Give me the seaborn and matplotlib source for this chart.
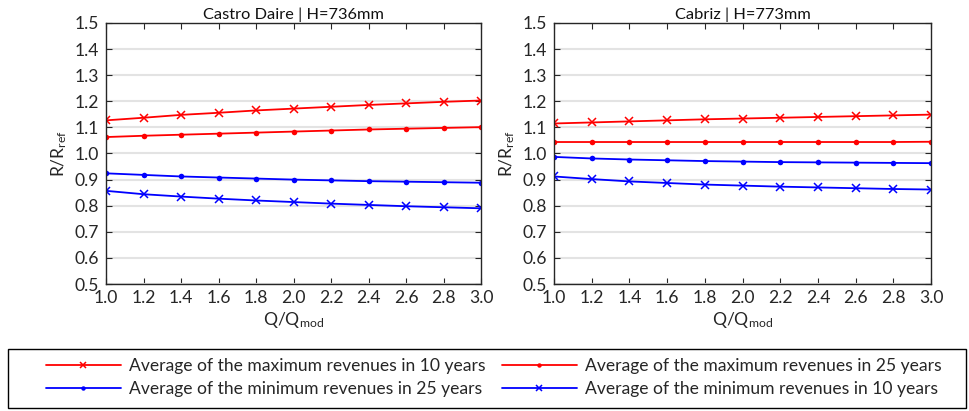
import matplotlib
matplotlib.use("Agg")
import matplotlib.pyplot as plt
import seaborn as sns
import pandas as pd
from matplotlib.lines import Line2D
from matplotlib.patches import Rectangle

q_ratio = [1.0, 1.2, 1.4, 1.6, 1.8, 2.0, 2.2, 2.4, 2.6, 2.8, 3.0]

castro_max10 = [1.127, 1.137, 1.148, 1.156, 1.165, 1.172, 1.179, 1.186, 1.192, 1.198, 1.203]
castro_max25 = [1.063, 1.068, 1.072, 1.076, 1.080, 1.084, 1.088, 1.092, 1.095, 1.098, 1.101]
castro_min25 = [0.924, 0.918, 0.912, 0.908, 0.904, 0.900, 0.897, 0.894, 0.892, 0.890, 0.888]
castro_min10 = [0.857, 0.844, 0.835, 0.827, 0.820, 0.814, 0.808, 0.803, 0.798, 0.794, 0.790]

cabriz_max10 = [1.115, 1.119, 1.123, 1.127, 1.131, 1.134, 1.137, 1.140, 1.143, 1.146, 1.149]
cabriz_max25 = [1.044, 1.044, 1.044, 1.044, 1.044, 1.044, 1.044, 1.044, 1.044, 1.044, 1.045]
cabriz_min25 = [0.987, 0.981, 0.977, 0.974, 0.971, 0.969, 0.967, 0.966, 0.965, 0.964, 0.963]
cabriz_min10 = [0.912, 0.902, 0.893, 0.887, 0.881, 0.877, 0.873, 0.870, 0.867, 0.864, 0.862]

titles = ["Castro Daire | H=736mm", "Cabriz | H=773mm"]
series_names = [
    "Average of the maximum revenues in 10 years",
    "Average of the maximum revenues in 25 years",
    "Average of the minimum revenues in 25 years",
    "Average of the minimum revenues in 10 years",
]
yticks = [0.5, 0.6, 0.7, 0.8, 0.9, 1.0, 1.1, 1.2, 1.3, 1.4, 1.5]
xticks = q_ratio

sns.set_theme(style="white")
plt.rcParams["font.family"] = ["Lato", "DejaVu Sans"]
plt.rcParams["mathtext.fontset"] = "custom"
plt.rcParams["mathtext.rm"] = "Lato"
plt.rcParams["mathtext.it"] = "Lato"
plt.rcParams["xtick.direction"] = "in"
plt.rcParams["ytick.direction"] = "in"

FS = 12.6
FS_TITLE = 11.8
TXT = "#262626"

styles = {
    series_names[0]: dict(color="#ff0000", marker="x", ms=6, mew=1.1),
    series_names[1]: dict(color="#ff0000", marker="o", ms=4, mew=0),
    series_names[2]: dict(color="#0000ff", marker="o", ms=4, mew=0),
    series_names[3]: dict(color="#0000ff", marker="x", ms=6, mew=1.1),
}

panels = [
    [castro_max10, castro_max25, castro_min25, castro_min10],
    [cabriz_max10, cabriz_max25, cabriz_min25, cabriz_min10],
]

W, H = 969, 411
fig = plt.figure(figsize=(W / 100, H / 100), dpi=100)
ax_pos = [
    [106 / W, 1 - 284 / H, 375 / W, 261 / H],
    [554 / W, 1 - 284 / H, 377 / W, 261 / H],
]

for p, vals in enumerate(panels):
    ax = fig.add_axes(ax_pos[p])
    df = pd.DataFrame({"q": q_ratio * 4,
                       "r": sum(vals, []),
                       "series": sum([[n] * len(q_ratio) for n in series_names], [])})
    for name in series_names:
        st = styles[name]
        sub = df[df["series"] == name]
        sns.lineplot(data=sub, x="q", y="r", ax=ax, color=st["color"], marker=st["marker"],
                     markersize=st["ms"], markeredgewidth=st["mew"],
                     markeredgecolor=st["color"], linewidth=1.3, legend=False)
    ax.set_xlim(1.0, 3.0)
    ax.set_ylim(0.5, 1.5)
    ax.set_xticks(xticks)
    ax.set_xticklabels([f"{v:.1f}" for v in xticks], fontsize=FS, color=TXT)
    ax.set_yticks(yticks)
    ax.set_yticklabels([f"{v:.1f}" for v in yticks], fontsize=FS, color=TXT)
    ax.tick_params(axis="both", which="both", direction="in", length=4, width=0.8,
                   top=True, right=True, bottom=True, left=True, color=TXT)
    ax.tick_params(axis="x", pad=4)
    ax.tick_params(axis="y", pad=5)
    ax.yaxis.grid(True, color="#e3e3e3", linewidth=1.5)
    ax.xaxis.grid(False)
    ax.set_axisbelow(True)
    for s in ax.spines.values():
        s.set_color(TXT)
        s.set_linewidth(1.0)
    ax.set_title(titles[p], fontsize=FS_TITLE, color="#111111", pad=3)
    ax.set_xlabel("Q/Q$_{\\mathrm{mod}}$", fontsize=FS, color=TXT, labelpad=3)
    ax.set_ylabel("R/R$_{\\mathrm{ref}}$", fontsize=FS, color=TXT, labelpad=4)

handles = []
for name in series_names:
    st = styles[name]
    handles.append(Line2D([0], [0], color=st["color"], marker=st["marker"],
                          markersize=st["ms"] * 0.8, markeredgewidth=st["mew"],
                          markeredgecolor=st["color"], linewidth=1.3))
order = [0, 2, 1, 3]
leg = fig.legend([handles[i] for i in order], [series_names[i] for i in order],
                 loc="center", bbox_to_anchor=(493.5 / W, 1 - 377.5 / H),
                 ncol=2, fontsize=FS, frameon=False,
                 handlelength=4.3, borderpad=0, labelspacing=0.42, handletextpad=0.45,
                 columnspacing=0.95)
fig.patches.append(Rectangle((8 / W, 3 / H), 958 / W, 59 / H, transform=fig.transFigure,
                             fill=False, edgecolor="#000000", linewidth=1.0))

fig.savefig("out.png", dpi=100)
